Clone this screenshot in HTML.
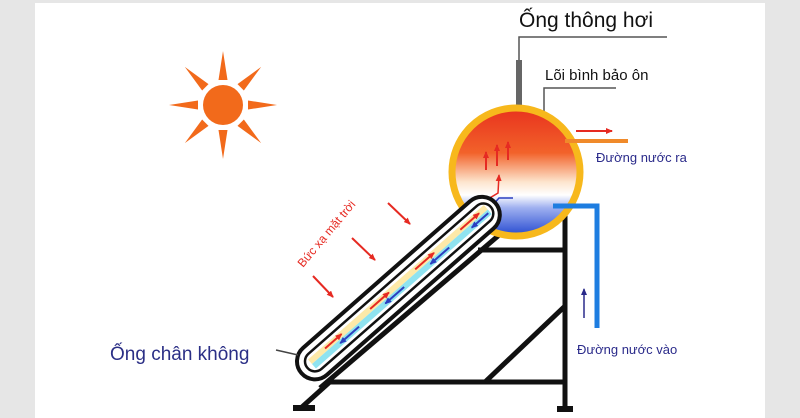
<!DOCTYPE html>
<html><head><meta charset="utf-8"><style>
html,body{margin:0;padding:0;background:#fff}
svg{display:block}
text{font-family:"Liberation Sans",sans-serif}
</style></head><body>
<svg width="800" height="418" viewBox="0 0 800 418" xmlns="http://www.w3.org/2000/svg">
<defs>
<linearGradient id="tank" x1="0" y1="0" x2="0" y2="1">
<stop offset="0" stop-color="#e8321e"/>
<stop offset="0.35" stop-color="#f2622a"/>
<stop offset="0.58" stop-color="#fde6cf"/>
<stop offset="0.68" stop-color="#ffffff"/>
<stop offset="0.78" stop-color="#9fb0f0"/>
<stop offset="1" stop-color="#2448d0"/>
</linearGradient>
<marker id="ar" markerUnits="userSpaceOnUse" markerWidth="7" markerHeight="6" refX="6" refY="3" orient="auto"><path d="M0,0L7,3L0,6z" fill="#e62a22"/></marker>
<marker id="ab" markerUnits="userSpaceOnUse" markerWidth="7" markerHeight="6" refX="6" refY="3" orient="auto"><path d="M0,0L7,3L0,6z" fill="#2b3fc0"/></marker>
<marker id="an" markerUnits="userSpaceOnUse" markerWidth="7" markerHeight="6" refX="6" refY="3" orient="auto"><path d="M0,0L7,3L0,6z" fill="#2a2a8a"/></marker>
</defs>
<rect x="0" y="0" width="35" height="418" fill="#e6e6e6"/>
<rect x="765" y="0" width="35" height="418" fill="#e6e6e6"/>
<rect x="35" y="0" width="730" height="3" fill="#e6e6e6"/>

<!-- sun -->
<g transform="translate(223,105)" fill="#f26a1b">
<circle r="20"/>
<g id="ray"><polygon points="-4.5,-25 4.5,-25 0,-54"/></g>
<use href="#ray" transform="rotate(45)"/><use href="#ray" transform="rotate(90)"/><use href="#ray" transform="rotate(135)"/>
<use href="#ray" transform="rotate(180)"/><use href="#ray" transform="rotate(225)"/><use href="#ray" transform="rotate(270)"/><use href="#ray" transform="rotate(315)"/>
</g>

<!-- labels top -->
<text x="519" y="27" font-size="21" fill="#111">Ống thông hơi</text>
<polyline points="667,37 519,37 519,110" fill="none" stroke="#555" stroke-width="1.5"/>
<rect x="516" y="60" width="6" height="50" fill="#666"/>
<text x="545" y="80" font-size="15" fill="#111">Lõi bình bảo ôn</text>
<polyline points="616,88 544,88 544,112" fill="none" stroke="#555" stroke-width="1.5"/>

<!-- stand -->
<g stroke="#111" stroke-width="5" fill="none">
<line x1="565" y1="215" x2="565" y2="408"/>
<line x1="478" y1="250" x2="565" y2="250"/>
<line x1="330" y1="382" x2="565" y2="382"/>
<line x1="485" y1="382" x2="565" y2="306"/>
<line x1="332" y1="380" x2="302" y2="407"/>
<line x1="320" y1="388" x2="505" y2="230"/>
</g>
<rect x="557" y="406" width="16" height="6" fill="#111"/>
<rect x="293" y="405" width="22" height="6" fill="#111"/>

<!-- tank -->
<circle cx="516" cy="172" r="64" fill="url(#tank)" stroke="#f7b81c" stroke-width="7"/>
<line x1="565" y1="141" x2="628" y2="141" stroke="#f08a2a" stroke-width="4"/>
<line x1="576" y1="131" x2="612" y2="131" stroke="#e62a22" stroke-width="2" marker-end="url(#ar)"/>
<text x="596" y="162" font-size="13" fill="#2a2a8a">Đường nước ra</text>
<polyline points="553,206 597,206 597,328" fill="none" stroke="#1e7de0" stroke-width="5"/>
<line x1="584" y1="318" x2="584" y2="289" stroke="#2a2a8a" stroke-width="1.5" marker-end="url(#an)"/>
<text x="577" y="354" font-size="13" fill="#2a2a8a">Đường nước vào</text>
<g stroke="#e62a22" stroke-width="2">
<line x1="486" y1="170" x2="486" y2="152" marker-end="url(#ar)"/>
<line x1="497" y1="166" x2="497" y2="145" marker-end="url(#ar)"/>
<line x1="508" y1="160" x2="508" y2="142" marker-end="url(#ar)"/>
<polyline points="478,205 498,193 499,175" fill="none" stroke-width="1.5" marker-end="url(#ar)"/>
</g>
<polyline points="513,198 499,198 484,215" fill="none" stroke="#2b3fc0" stroke-width="1.5" marker-end="url(#ab)"/>

<!-- collector tube -->
<g transform="translate(312,364) rotate(-41.3)">
<rect x="-14" y="-18" width="258" height="36" rx="18" fill="#fff" stroke="#111" stroke-width="4"/>
<rect x="-6" y="-10" width="244" height="20" rx="10" fill="#fff" stroke="#111" stroke-width="2.5"/>
<rect x="0" y="-6" width="234" height="6" fill="#fde9a8"/>
<rect x="0" y="0" width="234" height="6" fill="#8fe3f0"/>
<g stroke="#e62a22" stroke-width="2">
<line x1="20" y1="-3" x2="42" y2="-3" marker-end="url(#ar)"/>
<line x1="80" y1="-3" x2="105" y2="-3" marker-end="url(#ar)"/>
<line x1="140" y1="-3" x2="165" y2="-3" marker-end="url(#ar)"/>
<line x1="200" y1="-3" x2="225" y2="-3" marker-end="url(#ar)"/>
</g>
<g stroke="#2b3fc0" stroke-width="2">
<line x1="60" y1="3" x2="35" y2="3" marker-end="url(#ab)"/>
<line x1="120" y1="3" x2="95" y2="3" marker-end="url(#ab)"/>
<line x1="180" y1="3" x2="155" y2="3" marker-end="url(#ab)"/>
<line x1="232" y1="3" x2="210" y2="3" marker-end="url(#ab)"/>
</g>
</g>

<!-- radiation -->
<g stroke="#e62a22" stroke-width="2">
<line x1="313" y1="276" x2="333" y2="297" marker-end="url(#ar)"/>
<line x1="352" y1="238" x2="375" y2="260" marker-end="url(#ar)"/>
<line x1="388" y1="203" x2="410" y2="224" marker-end="url(#ar)"/>
</g>
<text x="0" y="0" font-size="12" fill="#e62a22" transform="translate(303,268) rotate(-50)">Bức xạ mặt trời</text>

<text x="110" y="360" font-size="19" fill="#2b2f86">Ống chân không</text>
<line x1="276" y1="350" x2="298" y2="355" stroke="#444" stroke-width="1.5"/>
</svg>
</body></html>
